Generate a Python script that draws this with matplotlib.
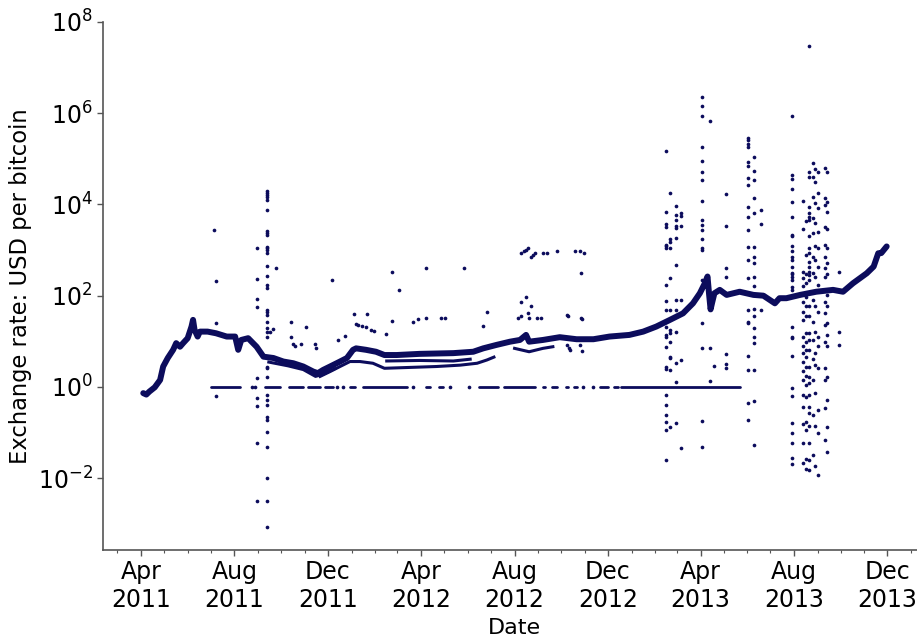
import matplotlib
matplotlib.use('Agg')
import matplotlib.pyplot as plt
import matplotlib.dates as mdates
from matplotlib.ticker import FixedLocator, NullLocator, LogFormatterMathtext
import pandas as pd

# ---------------- data ----------------
# main exchange-rate trace
main_dates = ['2011-04-04', '2011-04-08', '2011-04-12', '2011-04-19', '2011-04-26', '2011-04-30',
              '2011-05-06', '2011-05-13', '2011-05-17', '2011-05-22', '2011-05-26', '2011-06-01',
              '2011-06-06', '2011-06-08', '2011-06-10', '2011-06-14', '2011-06-17', '2011-06-27',
              '2011-07-08', '2011-07-22', '2011-08-02', '2011-08-06', '2011-08-10', '2011-08-19',
              '2011-08-30', '2011-09-08', '2011-09-21', '2011-10-04', '2011-10-17', '2011-10-30',
              '2011-11-12', '2011-11-18', '2011-11-25', '2011-12-04', '2011-12-17', '2011-12-26',
              '2012-01-03', '2012-01-07', '2012-01-20', '2012-02-02', '2012-02-13', '2012-02-29',
              '2012-03-30', '2012-05-13', '2012-06-08', '2012-06-21', '2012-07-08', '2012-07-26',
              '2012-08-08', '2012-08-16', '2012-08-20', '2012-09-07', '2012-09-29', '2012-10-21',
              '2012-11-12', '2012-12-03', '2012-12-29', '2013-01-16', '2013-02-02', '2013-02-20',
              '2013-03-09', '2013-03-22', '2013-03-31', '2013-04-06', '2013-04-10', '2013-04-12',
              '2013-04-14', '2013-04-16', '2013-04-19', '2013-04-26', '2013-05-05', '2013-05-22',
              '2013-06-09', '2013-06-22', '2013-07-07', '2013-07-13', '2013-07-22', '2013-08-09',
              '2013-08-30', '2013-09-21', '2013-10-04', '2013-10-17', '2013-11-04', '2013-11-13',
              '2013-11-19', '2013-11-23', '2013-11-30']
main_values = [0.73, 0.68, 0.79, 0.98, 1.42, 2.8,
               4.3, 6.5, 9.1, 7.6, 9.1, 11.7,
               21, 29.5, 17.8, 12.7, 16.3, 16.3,
               15, 12.7, 12.7, 6.5, 10.7, 11.7,
               7.6, 4.6, 4.3, 3.6, 3.3, 2.8,
               2.17, 2.0, 2.36, 2.8, 3.6, 4.3,
               6.5, 7.0, 6.5, 5.9, 5.0, 5.0,
               5.3, 5.5, 5.9, 7.0, 8.3, 9.8,
               10.7, 13.8, 9.8, 10.7, 12.3, 11.1,
               11.1, 12.7, 13.8, 16.3, 21, 29.5,
               41, 68, 113, 180, 263, 110,
               50, 70, 113, 134, 104, 122,
               104, 100, 68, 88, 88, 104,
               122, 134, 122, 187, 310, 435,
               850, 860, 1200]

# secondary (lower) exchange traces
sec2011_dates = ['2011-09-15', '2011-10-10', '2011-10-30', '2011-11-15', '2011-11-25', '2011-12-10']
sec2011_values = [3.5, 2.9, 2.4, 1.7, 1.9, 2.5]
secA_dates = ['2011-11-21', '2011-12-04', '2011-12-17', '2011-12-30', '2012-01-12', '2012-01-29',
              '2012-02-13', '2012-04-21', '2012-05-22', '2012-06-13', '2012-06-26', '2012-07-05']
secA_values = [1.7, 2.17, 2.8, 3.6, 3.6, 3.3, 2.56, 2.8, 3.0, 3.3, 3.9, 4.5]
secB_dates = ['2012-02-16', '2012-03-30', '2012-05-13', '2012-06-04']
secB_values = [3.7, 3.8, 3.7, 4.05]
secC_dates = ['2012-08-01', '2012-08-20', '2012-09-07', '2012-09-20']
secC_values = [7.0, 5.9, 7.0, 7.6]

# quotes at exactly 1 USD: runs of days and single days
one_run_starts = ['2011-07-01', '2011-09-10', '2011-10-12', '2011-11-05', '2011-11-27', '2011-12-30',
                  '2012-01-16', '2012-04-07', '2012-04-24', '2012-06-15', '2012-07-18', '2012-09-07',
                  '2012-09-19', '2012-10-07', '2012-10-17', '2012-11-20', '2012-12-09', '2012-12-18']
one_run_ends = ['2011-08-08', '2011-09-29', '2011-10-29', '2011-11-21', '2011-12-08', '2012-01-05',
                '2012-03-13', '2012-04-13', '2012-04-30', '2012-07-10', '2012-08-28', '2012-09-10',
                '2012-09-25', '2012-10-10', '2012-10-22', '2012-12-01', '2012-12-14', '2013-05-22']
one_single_dates = ['2011-08-24', '2011-08-28', '2011-12-13', '2011-12-21', '2012-03-21', '2012-05-09',
                    '2012-06-02', '2012-10-29', '2012-11-11']

# days with many outlying quotes
col_dates = ['2011-08-30', '2011-09-13', '2013-02-15', '2013-02-20', '2013-02-28', '2013-03-06',
             '2013-04-03', '2013-05-04', '2013-06-02', '2013-06-10', '2013-07-30', '2013-08-13',
             '2013-08-16', '2013-08-21', '2013-08-26', '2013-08-29', '2013-09-01', '2013-09-10',
             '2013-09-13']
col_values = [
    [1100, 230, 85, 56, 1.6, 0.58, 0.39, 0.058, 0.0031],
    [19900, 18200, 15900, 14500, 12600, 7600, 2560, 2350, 2150, 1190, 1100, 1000, 850, 450, 270,
     173, 146, 49, 43, 38, 27, 19.4, 16.3, 12.7, 2.8, 2.57, 1.68, 0.67, 0.52, 0.40, 0.22, 0.19,
     0.105, 0.048, 0.010, 0.0031, 0.00087],
    [145000, 6950, 3740, 3270, 1300, 1200, 1100, 173, 77, 49, 21, 13.8, 12.7, 7.6, 2.7, 2.45,
     0.67, 0.40, 0.243, 0.174, 0.114, 0.025],
    [17700, 1740, 1540, 1100, 240, 49, 17.8, 15, 9.8, 4.6, 4.25, 2.36, 0.135],
    [9300, 5900, 4600, 3390, 3030, 1820, 475, 81, 49, 16.3, 3.3, 1.3, 0.165],
    [6450, 5600, 3300, 81, 3.8, 0.045],
    [2.24e6, 1.41e6, 8.8e5, 1.86e5, 9.1e4, 5.1e4, 3.5e4, 1.2e4, 4600, 3560, 2760, 1740, 1100,
     1000, 220, 25, 7.0, 0.18, 0.049],
    [17000, 3390, 400, 255, 5.2, 3.2, 2.57],
    [2.8e5, 2.6e5, 2.1e5, 1.86e5, 8.7e4, 7.1e4, 3.8e4, 2.7e4, 8900, 5400, 2760, 1190, 610, 240,
     49, 27, 25, 4.8, 2.36, 0.44, 0.19],
    [1.1e5, 5.3e4, 3.5e4, 1.4e4, 6450, 1190, 720, 515, 262, 166, 50, 36, 20, 12.7, 9.1, 2.36,
     0.50, 0.053],
    [8.9e5, 4.5e4, 3.6e4, 2.16e4, 1.15e4, 5250, 2150, 1990, 1230, 975, 720, 610, 436, 322, 302,
     262, 223, 158, 134, 20.4, 12.7, 11.7, 4.8, 0.97, 0.63, 0.16, 0.10, 0.058, 0.028, 0.020],
    [12200, 2870, 337, 242, 164, 71, 43, 29, 12.7, 7.7, 5.5, 3.6, 2.28, 1.42, 0.67, 0.36, 0.154,
     0.058, 0.021],
    [4430, 785, 300, 188, 95, 58, 35, 15, 9.8, 6.5, 4.5, 2.8, 1.74, 1.1, 0.59, 0.173, 0.114,
     0.026, 0.0157],
    [52000, 40000, 8900, 6450, 5400, 4600, 1990, 1100, 850, 540, 420, 337, 286, 223, 58, 35, 15,
     10.7, 6.5, 2.8, 1.68, 1.2, 0.67, 0.37, 0.265, 0.14, 0.058, 0.025, 0.015],
    [80500, 40900, 14500, 5000, 2350, 720, 311, 81, 27, 10.7, 4.05, 1.42, 0.243, 0.032],
    [59500, 31800, 11000, 3900, 1240, 610, 262, 58, 16.3, 5.5, 3.0, 0.73, 0.14, 0.018],
    [52600, 18200, 8300, 2550, 1100, 435, 173, 43, 12.7, 7.9, 2.57, 0.31, 0.097, 0.0118],
    [62500, 13700, 9800, 3280, 1300, 720, 400, 262, 74, 41, 23, 9.8, 2.57, 1.42, 0.34, 0.069],
    [52600, 11600, 7000, 2870, 1100, 516, 300, 104, 58, 25, 13.8, 7.7, 1.68, 0.52, 0.135, 0.038],
]

# isolated outlying quotes
iso_dates = ['2011-07-06', '2011-07-08', '2011-07-08', '2011-07-08', '2011-09-24', '2011-09-20',
             '2011-09-16', '2011-10-14', '2011-10-14', '2011-10-17', '2011-10-19', '2011-10-27',
             '2011-11-03', '2011-11-14', '2011-11-15', '2011-12-06', '2011-12-14', '2011-12-24',
             '2012-01-04', '2012-01-07', '2012-01-10', '2012-01-15', '2012-01-20', '2012-01-21',
             '2012-01-27', '2012-01-30', '2012-02-15', '2012-02-23', '2012-02-23', '2012-03-03',
             '2012-03-21', '2012-03-28', '2012-04-07', '2012-04-07', '2012-04-27', '2012-05-02',
             '2012-05-27', '2012-06-21', '2012-06-26', '2012-08-05', '2012-08-09', '2012-08-09',
             '2012-08-09', '2012-08-13', '2012-08-16', '2012-08-16', '2012-08-18', '2012-08-19',
             '2012-08-20', '2012-08-22', '2012-08-22', '2012-08-25', '2012-08-28', '2012-08-30',
             '2012-09-04', '2012-09-07', '2012-09-12', '2012-09-25', '2012-10-08', '2012-10-10',
             '2012-10-09', '2012-10-11', '2012-10-13', '2012-10-19', '2012-10-25', '2012-10-27',
             '2012-10-26', '2012-10-27', '2012-10-28', '2012-10-28', '2012-10-31', '2013-04-13',
             '2013-04-13', '2013-04-13', '2013-04-18', '2013-06-19', '2013-06-19', '2013-06-19',
             '2013-08-20', '2013-09-29', '2013-09-29', '2013-09-29']
iso_values = [2760, 214, 25, 0.63, 413, 18.4,
              16, 26, 12.5, 8.8, 7.7, 8.6,
              21, 8.8, 7.0, 218, 10.6, 13.1,
              39, 23.6, 23, 22, 20.5, 40,
              18, 17, 14.2, 335, 28, 134,
              26, 31.5, 33, 400, 33, 33,
              400, 21.7, 43, 33, 35, 72,
              850, 930, 95, 1000, 1100, 41,
              32, 720, 60, 780, 880, 33,
              33, 850, 850, 930, 38, 35,
              8.3, 7.0, 6.5, 930, 930, 33,
              8.3, 310, 31, 6.2, 850, 6.6e5,
              7.0, 1.35, 2.9, 7400, 3740, 49,
              3.0e7, 335, 16.3, 8.3]

x_label = 'Date'
y_label = 'Exchange rate: USD per bitcoin'

# ---------------- drawing ----------------
navy = '#0c0c5c'
spine_grey = '#555555'

fig = plt.figure(figsize=(9.17, 6.37), dpi=100)
ax = fig.add_axes([0.1123, 0.1366, 0.8877, 0.8289])

ax.plot(pd.to_datetime(main_dates), main_values, color=navy, lw=4.3,
        solid_joinstyle='round', solid_capstyle='round', zorder=3)
for d, v in [(sec2011_dates, sec2011_values), (secA_dates, secA_values),
             (secB_dates, secB_values), (secC_dates, secC_values)]:
    ax.plot(pd.to_datetime(d), v, color=navy, lw=2.2, zorder=3)

for s, e in zip(one_run_starts, one_run_ends):
    ax.plot(pd.to_datetime([s, e]), [1, 1], color=navy, lw=2.0,
            solid_capstyle='round', zorder=3)
ax.scatter(pd.to_datetime(one_single_dates), [1] * len(one_single_dates),
           s=7, color=navy, linewidths=0, zorder=3)

for d, vals in zip(col_dates, col_values):
    ax.scatter(pd.to_datetime([d] * len(vals)), vals, s=7, color=navy,
               linewidths=0, zorder=3)
ax.scatter(pd.to_datetime(iso_dates), iso_values, s=7, color=navy,
           linewidths=0, zorder=3)

ax.set_yscale('log')
ax.set_ylim(10 ** -3.575, 1e8)
ax.set_xlim(pd.Timestamp('2011-02-10 09:00'), pd.Timestamp('2014-01-08 15:00'))

ax.yaxis.set_major_locator(FixedLocator([1e-2, 1, 1e2, 1e4, 1e6, 1e8]))
ax.yaxis.set_major_formatter(LogFormatterMathtext())
ax.yaxis.set_minor_locator(NullLocator())

ax.xaxis.set_major_locator(mdates.MonthLocator(bymonth=[4, 8, 12]))
ax.xaxis.set_major_formatter(mdates.DateFormatter('%b\n%Y'))
ax.xaxis.set_minor_locator(mdates.MonthLocator())

for side in ['top', 'right']:
    ax.spines[side].set_visible(False)
for side in ['left', 'bottom']:
    ax.spines[side].set_color(spine_grey)
    ax.spines[side].set_linewidth(1.2)

ax.tick_params(axis='both', which='major', labelsize=17, length=4, width=1,
               color=spine_grey, direction='out')
ax.tick_params(axis='x', which='minor', length=2.5, width=0.8, color=spine_grey)

ax.set_xlabel(x_label, fontsize=16)
ax.xaxis.set_label_coords(0.505, -0.128)
ax.set_ylabel(y_label, fontsize=16.3)
ax.yaxis.set_label_coords(-0.087, 0.5)

fig.savefig('out.png', dpi=100)
